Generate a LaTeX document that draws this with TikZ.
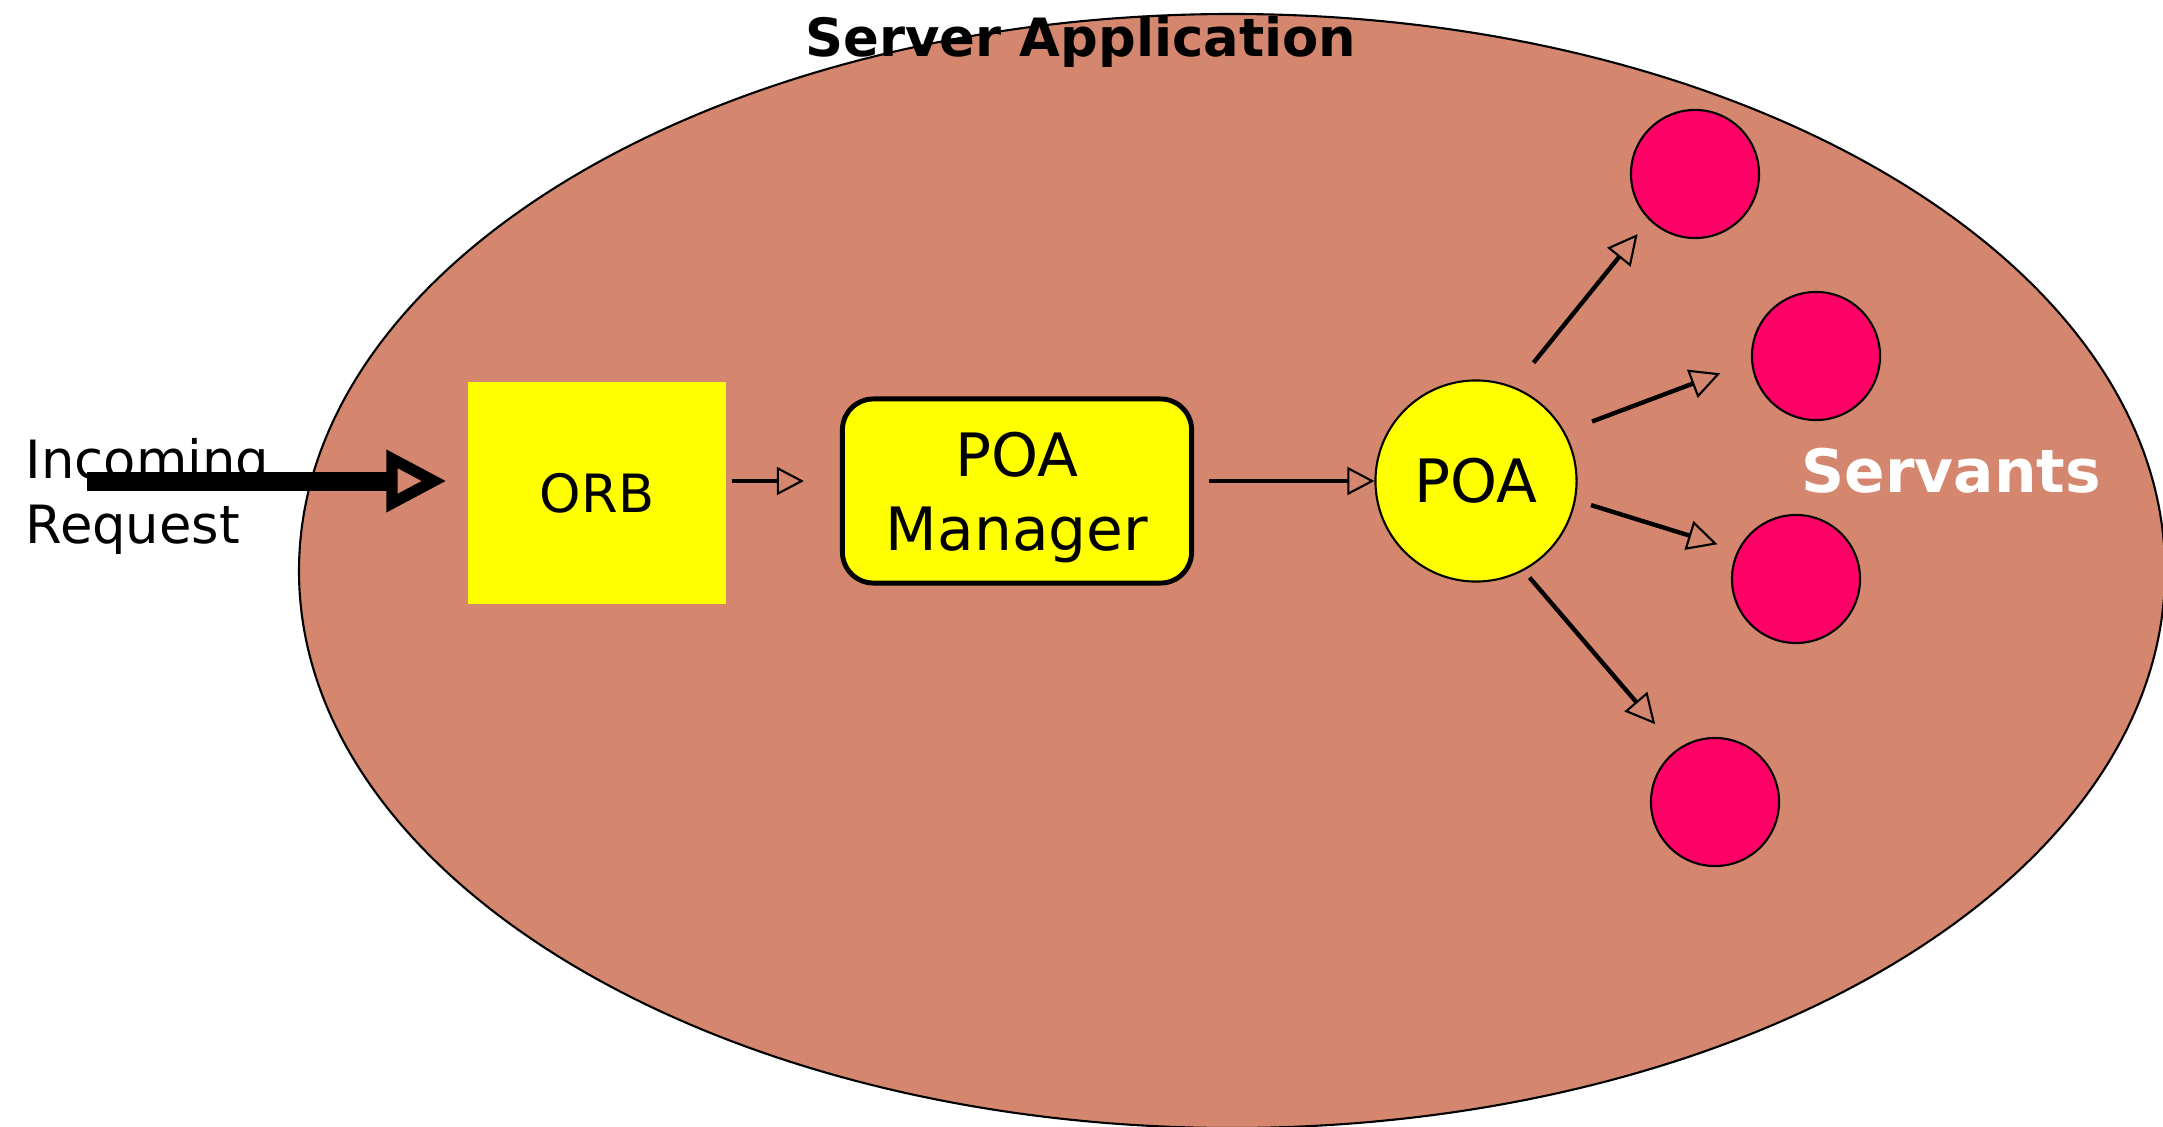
\documentclass[tikz,border=0pt]{standalone}
\usepackage{fontspec}
\setmainfont{DejaVu Sans}
\usetikzlibrary{arrows.meta}
\definecolor{appbrown}{RGB}{212,135,110}
\definecolor{poayellow}{RGB}{255,255,0}
\definecolor{servpink}{RGB}{255,0,102}
\begin{document}
\begin{tikzpicture}[x=0.01cm,y=-0.01cm,
	box/.style={fill=poayellow, inner sep=0pt},
	servant/.style={circle, draw, line width=0.6pt, fill=servpink, minimum size=1.28cm, inner sep=0pt},
	flow/.style={line width=1pt, -{Triangle[open, length=7.7pt, width=8pt, line width=0.6pt]}},
	fanout/.style={line width=1.25pt, -{Triangle[open, length=8.5pt, width=8.5pt, line width=0.6pt]}}]
	\useasboundingbox (0,0) rectangle (2163,1127);
	\draw[fill=appbrown, line width=0.6pt] (1232,571) ellipse [x radius=933, y radius=557];
	\node (title) at (1081,56)	[anchor=base, inner sep=0pt, font=\bfseries\fontsize{15}{18}\selectfont]	{Server Application};
	\node (inlbl) at (25,543)	[anchor=base west, align=left, inner sep=0pt, font=\fontsize{15}{18.4}\selectfont]	{Incoming\\Request};
	\node (ORB) at (597,493)	[box, minimum width=2.58cm, minimum height=2.22cm, font=\fontsize{15}{18}\selectfont]	{ORB};
	\node (MGR) at (1017,491)	[box, draw, line width=1.4pt, rounded corners=0.31cm, minimum width=3.49cm, minimum height=1.84cm, align=center, text depth=0pt, font=\fontsize{17}{21}\selectfont]	{POA\\Manager};
	\node (POA) at (1476,481)	[circle, draw, fill=poayellow, line width=0.6pt, minimum size=2.01cm, inner sep=0pt, font=\fontsize{17}{21}\selectfont]	{POA};
	\node (S1) at (1695,174)	[servant]	{};
	\node (S2) at (1816,356)	[servant]	{};
	\node (S3) at (1796,579)	[servant]	{};
	\node (S4) at (1715,802)	[servant]	{};
	\node (servlbl) at (1801,492)	[anchor=base west, inner sep=0pt, text=white, font=\bfseries\fontsize{17}{21}\selectfont]	{Servants};
	\coordinate (src) at (87,481);
	\draw[line width=5.4pt, -{Triangle[open, length=17pt, width=17pt, line width=3.2pt]}, shorten >=0.21cm] (src) -- (src -| ORB.west);
	\draw[flow, shorten <=0.05cm, shorten >=0.36cm] (ORB.east |- POA) -- (MGR.west |- POA);
	\draw[flow, shorten <=0.15cm] (MGR.east |- POA) -- (POA.west);
	\draw[fanout, shorten <=0.31cm, shorten >=0.18cm] (POA.68) -- (S1.225);
	\draw[fanout, shorten <=0.29cm, shorten >=0.33cm] (POA.29) -- (S2.185);
	\draw[fanout, shorten <=0.16cm, shorten >=0.21cm] (POA.-11) -- (S3.154);
	\draw[fanout, shorten <=0.09cm, shorten >=0.33cm] (POA.-62) -- (S4.126);
\end{tikzpicture}
\end{document}
